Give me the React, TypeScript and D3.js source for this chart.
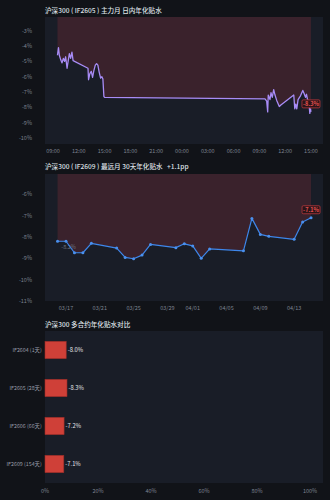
import React from 'react';
import * as d3 from 'd3';

// 主力月 日内年化贴水 (IF2605), two sessions
const intradayTimes = [
  '2026-04-14 09:31', '2026-04-14 09:38', '2026-04-14 09:44', '2026-04-14 09:54', '2026-04-14 10:03',
  '2026-04-14 10:12', '2026-04-14 10:21', '2026-04-14 10:28', '2026-04-14 10:38', '2026-04-14 10:47',
  '2026-04-14 10:54', '2026-04-14 11:03', '2026-04-14 11:12', '2026-04-14 11:20', '2026-04-14 13:04',
  '2026-04-14 13:08', '2026-04-14 13:17', '2026-04-14 13:27', '2026-04-14 13:36', '2026-04-14 13:45',
  '2026-04-14 13:55', '2026-04-14 14:04', '2026-04-14 14:13', '2026-04-14 14:22', '2026-04-14 14:32',
  '2026-04-14 14:41', '2026-04-14 14:48', '2026-04-14 14:55', '2026-04-14 15:00',
  '2026-04-15 09:39', '2026-04-15 09:51', '2026-04-15 09:58', '2026-04-15 10:02', '2026-04-15 10:14',
  '2026-04-15 10:21', '2026-04-15 10:30', '2026-04-15 10:40', '2026-04-15 10:49', '2026-04-15 11:01',
  '2026-04-15 11:19', '2026-04-15 11:30', '2026-04-15 13:00', '2026-04-15 13:07', '2026-04-15 13:14',
  '2026-04-15 13:21', '2026-04-15 13:30', '2026-04-15 13:40', '2026-04-15 13:47', '2026-04-15 13:56',
  '2026-04-15 14:03', '2026-04-15 14:12', '2026-04-15 14:22', '2026-04-15 14:29', '2026-04-15 14:36',
  '2026-04-15 14:45', '2026-04-15 14:52', '2026-04-15 14:57', '2026-04-15 15:00',
];
const intradayValues = [
  -4.6, -4.1, -4.6, -4.9, -5.1,
  -4.8, -5.0, -4.7, -5.45, -4.9,
  -4.5, -4.8, -4.4, -4.95, -5.45,
  -6.2, -5.8, -5.65, -6.05, -5.6,
  -5.25, -5.15, -5.25, -5.7, -6.1,
  -6.0, -6.15, -7.3, -7.35,
  -7.45, -7.6, -8.3, -7.2, -7.5,
  -7.05, -7.35, -6.85, -7.2, -7.55,
  -7.95, -7.85, -7.2, -8.1, -7.8,
  -8.1, -7.5, -7.35, -7.25, -7.05,
  -6.9, -7.1, -7.35, -7.15, -7.5,
  -7.6, -8.4, -8.1, -8.3,
];

// 最远月 IF2609 30天年化贴水
const dailyDates = [
  '2026-03-16', '2026-03-17', '2026-03-18', '2026-03-19', '2026-03-20',
  '2026-03-23', '2026-03-24', '2026-03-25', '2026-03-26', '2026-03-27',
  '2026-03-30', '2026-03-31', '2026-04-01', '2026-04-02', '2026-04-03',
  '2026-04-07', '2026-04-08', '2026-04-09', '2026-04-10',
  '2026-04-13', '2026-04-14', '2026-04-15',
];
const dailyValues = [
  -8.2, -8.2, -8.74, -8.74, -8.3,
  -8.52, -8.96, -9.02, -8.85, -8.35,
  -8.5, -8.32, -8.42, -9.0, -8.56,
  -8.65, -7.13, -7.88, -7.97,
  -8.11, -7.3, -7.1,
];

// 多合约对比
const contracts = ['IF2604 (1天)', 'IF2605 (28天)', 'IF2606 (66天)', 'IF2609 (154天)'];
const contractValues = [-8.0, -8.3, -7.2, -7.1];
const pctTicks = [0, 20, 40, 60, 80, 100];

const FONT = '"Noto Sans CJK SC", "Noto Sans", sans-serif';
const BG = '#111318';
const PLOT = '#191d27';
const TXT = '#dfe1e7';
const AXIS = '#7e8391';
const AREA = 'rgba(190, 55, 65, 0.2)';

const parseMin = d3.timeParse('%Y-%m-%d %H:%M');
const parseDay = d3.timeParse('%Y-%m-%d');

const L = 45, R = 323;

function Badge({ x, y, text }: { x: number; y: number; text: string }) {
  return (
    <g>
      <rect x={x - 9} y={y - 12} width={18} height={8} rx={1.2}
        fill="#2a1519" stroke="#b8393c" strokeWidth={0.8} />
      <text x={x} y={y - 5.8} textAnchor="middle" fontSize={5.6} fontWeight={700}
        fill="#e2504f" fontFamily={FONT}>{text}</text>
    </g>
  );
}

function Title({ y, text }: { y: number; text: string }) {
  return (
    <text x={L} y={y} fontSize={6.6} fontWeight={500} fill={TXT} fontFamily={FONT} style={{ whiteSpace: 'pre' }}>
      {text}
    </text>
  );
}

function Intraday() {
  const top = 17, bottom = 144;
  const t0 = parseMin('2026-04-14 09:00')!;
  const t1 = parseMin('2026-04-15 15:00')!;
  const hourPx = (311 - 53) / 30;
  const x = d3.scaleTime()
    .domain([d3.timeMinute.offset(t0, -Math.round((8 / hourPx) * 60)), d3.timeMinute.offset(t1, Math.round((12 / hourPx) * 60))])
    .range([L, R]);
  const y = d3.scaleLinear().domain([-10.4, -2.1]).range([bottom, top]);
  const pts = intradayTimes.map((t, i) => ({ t: parseMin(t)!, v: intradayValues[i] }));
  const line = d3.line<{ t: Date; v: number }>().x(d => x(d.t)).y(d => y(d.v));
  const area = d3.area<{ t: Date; v: number }>().x(d => x(d.t)).y0(top).y1(d => y(d.v));
  const yTicks = d3.range(-10, -2, 1);
  const xTicks = x.ticks(d3.timeHour.every(3)!).filter(d => d >= t0 && d <= t1);
  const last = pts[pts.length - 1];
  return (
    <g>
      <Title y={12.8} text="沪深300 ( IF2605 ) 主力月 日内年化贴水" />
      <rect x={L} y={top} width={R - L} height={bottom - top} fill={PLOT} />
      <path d={area(pts)!} fill={AREA} />
      <path d={line(pts)!} fill="none" stroke="#a88cf6" strokeWidth={1.3} strokeLinejoin="round" />
      {yTicks.map(v => (
        <text key={v} x={32} y={y(v) + 2} textAnchor="end" fontSize={5.5} fill={AXIS} fontFamily={FONT}>{v}%</text>
      ))}
      {xTicks.map((d, i) => (
        <text key={i} x={x(d)} y={152.5} textAnchor="middle" fontSize={5.5} fill={AXIS} fontFamily={FONT}>
          {d3.timeFormat('%H:%M')(d)}
        </text>
      ))}
      <Badge x={x(last.t)} y={y(last.v)} text={`${last.v.toFixed(1)}%`} />
    </g>
  );
}

function Daily() {
  const top = 174, bottom = 301;
  const dayPx = 8.45;
  const ref = parseDay('2026-03-17')!;
  const x = d3.scaleTime()
    .domain([
      new Date(ref.getTime() - (21 / dayPx) * 864e5),
      new Date(ref.getTime() + ((323 - 66) / dayPx) * 864e5),
    ])
    .range([L, R]);
  const y = d3.scaleLinear().domain([-11, -5.05]).range([bottom, top]);
  const pts = dailyDates.map((d, i) => ({ t: parseDay(d)!, v: dailyValues[i] }));
  const line = d3.line<{ t: Date; v: number }>().x(d => x(d.t)).y(d => y(d.v));
  const area = d3.area<{ t: Date; v: number }>().x(d => x(d.t)).y0(top).y1(d => y(d.v));
  const yTicks = d3.range(-11, -5, 1);
  const xTicks = x.ticks(d3.timeDay.every(4)!).filter(d => d >= pts[0].t && d <= pts[pts.length - 1].t);
  const first = pts[0];
  const last = pts[pts.length - 1];
  const change = last.v - first.v;
  return (
    <g>
      <Title y={169.3} text={`沪深300 ( IF2609 ) 最远月 30天年化贴水   +${change.toFixed(1)}pp`} />
      <rect x={L} y={top} width={R - L} height={bottom - top} fill={PLOT} />
      <path d={area(pts)!} fill={AREA} />
      <text x={x(first.t) + 11} y={y(first.v) + 8} textAnchor="middle" fontSize={5.5} fill="#6f7480" fontFamily={FONT}>
        {`${first.v.toFixed(1)}%`}
      </text>
      <path d={line(pts)!} fill="none" stroke="#3d86ea" strokeWidth={1.2} strokeLinejoin="round" />
      {pts.map((d, i) => (
        <circle key={i} cx={x(d.t)} cy={y(d.v)} r={1.5} fill="#4a90ee" />
      ))}
      {yTicks.map(v => (
        <text key={v} x={32} y={y(v) + 2} textAnchor="end" fontSize={5.5} fill={AXIS} fontFamily={FONT}>{v}%</text>
      ))}
      {xTicks.map((d, i) => (
        <text key={i} x={x(d)} y={310} textAnchor="middle" fontSize={5.5} fill={AXIS} fontFamily={FONT}>
          {d3.timeFormat('%m/%d')(d)}
        </text>
      ))}
      <Badge x={x(last.t)} y={y(last.v)} text={`${last.v.toFixed(1)}%`} />
    </g>
  );
}

function Compare() {
  const top = 331, bottom = 483;
  const x = d3.scaleLinear().domain([0, 100]).range([L, 310]);
  const y = d3.scaleBand<string>().domain(contracts).range([top, bottom]).paddingInner(0.545).paddingOuter(0.2725);
  return (
    <g>
      <Title y={326.8} text="沪深300 多合约年化贴水对比" />
      <rect x={L} y={top} width={R - L} height={bottom - top} fill={PLOT} />
      {contracts.map((c, i) => {
        const v = contractValues[i];
        const w = x(Math.abs(v)) - x(0);
        return (
          <g key={c}>
            <rect x={x(0)} y={y(c)!} width={w} height={y.bandwidth()} fill="#cf4038" stroke="#9b2d28" strokeWidth={0.6} />
            <text x={x(0) + w + 1.5} y={y(c)! + y.bandwidth() / 2 + 2} fontSize={5.8} fill="#e4e6ea" fontFamily={FONT}>
              {`${v.toFixed(1)}%`}
            </text>
            <text x={41.7} y={y(c)! + y.bandwidth() / 2 + 2} textAnchor="end" fontSize={5.3} fill="#9a9fab" fontFamily={FONT}>{c}</text>
          </g>
        );
      })}
      {pctTicks.map(t => (
        <text key={t} x={x(t)} y={492.5} textAnchor="middle" fontSize={5.5} fill={AXIS} fontFamily={FONT}>{t}%</text>
      ))}
    </g>
  );
}

export default function App() {
  return (
    <div style={{ position: 'fixed', left: 0, top: 0, width: 330, height: 500, background: BG }}>
      <svg width={330} height={500} style={{ display: 'block' }}>
        <rect width={330} height={500} fill={BG} />
        <Intraday />
        <Daily />
        <Compare />
      </svg>
    </div>
  );
}
